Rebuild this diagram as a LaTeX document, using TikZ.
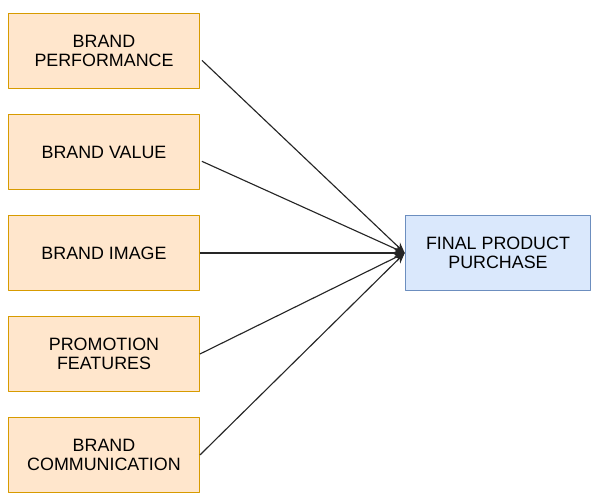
\documentclass[tikz,border=0pt]{standalone}
\usepackage{fontspec}
\setmainfont{Liberation Sans}
\usetikzlibrary{arrows.meta}
\definecolor{boxorange}{HTML}{FFE6CC}
\definecolor{lineorange}{HTML}{D79B00}
\definecolor{boxblue}{HTML}{DAE8FC}
\definecolor{lineblue}{HTML}{6C8EBF}
\begin{document}
\begin{tikzpicture}[x=0.75pt,y=-0.75pt,>={Stealth[length=8pt,width=6.5pt]}, font=\fontsize{13.4}{13.8}\selectfont, line join=round,
	factor/.style={draw=lineorange,fill=boxorange,line width=0.9pt,minimum width=143pt,minimum height=56pt,align=center,inner sep=0pt},
	result/.style={draw=lineblue,fill=boxblue,line width=0.9pt,minimum width=139pt,minimum height=56pt,align=center,inner sep=0pt},
	link/.style={->,line width=0.85pt,black!85}]
	\useasboundingbox (0,0) rectangle (593,493);
	\node[factor] (perf) at (104,51) {BRAND\\PERFORMANCE};
	\node[factor] (value) at (104,152) {BRAND VALUE};
	\node[factor] (image) at (104,253) {BRAND IMAGE};
	\node[factor] (promo) at (104,354) {PROMOTION\\FEATURES};
	\node[factor] (comm) at (104,455) {BRAND\\COMMUNICATION};
	\node[result] (buy) at (498,253) {FINAL PRODUCT\\PURCHASE};
	\draw[link] ([xshift=1.5pt,yshift=-7pt]perf.east) -- (buy.west);
	\draw[link] ([xshift=1.5pt,yshift=-7pt]value.east) -- (buy.west);
	\foreach \s in {image,promo,comm}
	\draw[link] (\s.east) -- (buy.west);
\end{tikzpicture}
\end{document}
